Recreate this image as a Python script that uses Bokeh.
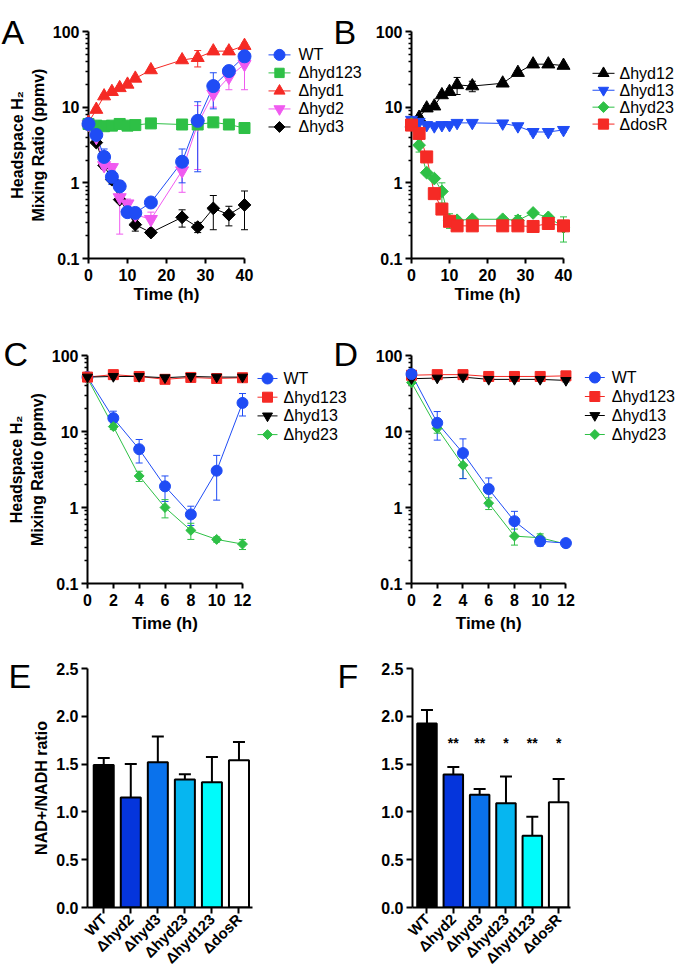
import math
from bokeh.plotting import figure
from bokeh.models import (ColumnDataSource, Whisker, TeeHead,
                          FixedTicker, CustomJSTickFormatter, NumeralTickFormatter, Range1d)
from bokeh.core.properties import value
from bokeh.layouts import row, column
from bokeh.embed import file_html
from bokeh.resources import INLINE

# ---------------- data ----------------
# Panel A (time in h, H2 ppmv, SD)
tA = [0, 2, 4, 6, 8, 10, 12, 16, 24, 28, 32, 36, 40]
A_WT = [6.0, 4.3, 2.2, 1.2, 0.9, 0.41, 0.40, 0.55, 1.9, 6.6, 19, 30, 47]
A_WT_err = [0.3, 0.3, 0.6, 0.25, 0.12, 0.05, 0.05, 0.05, 0.9, 5.2, 9.5, 4, 5]
A_hyd123 = [6.0, 5.7, 5.6, 5.7, 6.0, 5.7, 5.8, 6.1, 5.9, 5.9, 6.3, 5.9, 5.3]
A_hyd123_err = [0.3, 0.2, 0.2, 0.2, 0.3, 0.2, 0.2, 0.3, 0.3, 0.3, 0.3, 0.3, 0.3]
A_hyd1 = [6.3, 9.3, 14, 16, 18, 20, 24, 31, 42, 45, 55, 55, 65]
A_hyd1_err = [0.3, 0.5, 0.8, 0.8, 1.0, 1.0, 1.2, 1.5, 3, 11, 4, 5, 5]
A_hyd2 = [6.0, 4.0, 1.7, 1.6, 0.64, 0.53, 0.38, 0.33, 1.45, 6.0, 15, 25, 37]
A_hyd2_err = [0.3, 0.3, 0.2, 0.2, 0.43, 0.08, 0.05, 0.08, 0.7, 4.5, 5, 8, 20]
A_hyd3 = [6.0, 3.4, 1.7, 1.1, 0.6, 0.42, 0.28, 0.22, 0.35, 0.26, 0.46, 0.38, 0.51]
A_hyd3_err = [0.2, 0.2, 0.15, 0.1, 0.05, 0.04, 0.05, 0.02, 0.09, 0.04, 0.22, 0.11, 0.27]

# Panel B
tB = [0, 2, 4, 6, 8, 10, 12, 16, 24, 28, 32, 36, 40]
B_hyd12 = [6.1, 7.3, 9.7, 10.3, 14.5, 16, 19.7, 19, 20.7, 28.6, 37, 37, 35.5]
B_hyd12_err = [0.3, 0.4, 0.8, 0.8, 1.0, 1.5, 5, 3, 1, 1.5, 2, 1.5, 1.5]
B_hyd13 = [6.8, 6.4, 5.8, 5.6, 5.8, 5.8, 6.2, 6.2, 6.1, 5.6, 4.7, 4.7, 5.0]
B_hyd13_err = [0.3, 0.3, 0.3, 0.3, 0.3, 0.3, 0.3, 0.3, 0.3, 0.3, 0.3, 0.3, 0.3]
B_hyd23 = [6.0, 3.15, 1.36, 1.14, 0.77, 0.32, 0.32, 0.33, 0.33, 0.32, 0.40, 0.35, 0.26]
B_hyd23_err = [0.3, 0.6, 0.1, 0.1, 0.23, 0.07, 0.03, 0.03, 0.03, 0.05, 0.03, 0.03, 0.095]
B_dosR = [5.8, 4.5, 2.2, 0.72, 0.45, 0.31, 0.27, 0.27, 0.27, 0.27, 0.265, 0.29, 0.27]
B_dosR_err = [0.3, 0.3, 0.2, 0.05, 0.04, 0.02, 0.02, 0.02, 0.02, 0.02, 0.02, 0.02, 0.02]

# Panel C
tC = [0, 2, 4, 6, 8, 10, 12]
C_WT = [52, 15, 5.85, 1.9, 0.81, 3.05, 23.8]
C_WT_err = [2, 3.5, 2, 0.7, 0.23, 1.8, 7.8]
C_hyd123 = [52, 56, 53, 48.6, 51.4, 49.8, 51]
C_hyd123_err = [2, 3, 2, 2, 2, 2, 2]
C_hyd13 = [52, 53, 53, 51, 53, 52, 52]
C_hyd13_err = [2, 2, 2, 2, 2, 2, 2]
C_hyd23 = [50, 11.6, 2.6, 1.0, 0.5, 0.38, 0.33]
C_hyd23_err = [2, 1, 0.4, 0.27, 0.12, 0.03, 0.05]

# Panel D
tD = [0, 2, 4, 6, 8, 10, 12]
D_WT = [57, 13, 5.2, 1.75, 0.66, 0.36, 0.34]
D_WT_err = [3, 5.3, 2.8, 0.7, 0.23, 0.05, 0.03]
D_hyd123 = [55, 56, 56, 53, 53, 53, 54]
D_hyd123_err = [2, 2, 2, 2, 2, 2, 2]
D_hyd13 = [49.5, 50.5, 52, 48.5, 48.5, 48.5, 47]
D_hyd13_err = [2, 2, 2, 2, 2, 2, 2]
D_hyd23 = [44, 11, 3.6, 1.14, 0.42, 0.40, 0.33]
D_hyd23_err = [2, 1.5, 1.2, 0.2, 0.1, 0.05, 0.03]

# Panels E and F (NAD+/NADH ratio)
strains = ["WT", "Δhyd2", "Δhyd3", "Δhyd23", "Δhyd123", "ΔdosR"]
E_ratio = [1.49, 1.15, 1.52, 1.34, 1.31, 1.54]
E_err = [0.075, 0.35, 0.27, 0.055, 0.265, 0.19]
F_ratio = [1.925, 1.39, 1.18, 1.09, 0.75, 1.10]
F_err = [0.14, 0.08, 0.06, 0.28, 0.20, 0.244]
F_sig = ["", "**", "**", "*", "**", "*"]
bar_colors = ["#000000", "#0535dc", "#0a72ec", "#06b6f0", "#00fbfb", "#ffffff"]

FONT = "Liberation Sans"
BLUE = "#1f4cf5"
GREEN = "#2ec046"
RED = "#f52a25"
MAGENTA = "#f05af0"
BLACK = "#000000"
LOG_MAJOR = [0.1, 1, 10, 100]
LOG_MINOR = [0.2, 0.3, 0.4, 0.5, 0.6, 0.7, 0.8, 0.9, 2, 3, 4, 5, 6, 7, 8, 9,
             20, 30, 40, 50, 60, 70, 80, 90]
Q = math.pi / 4


def style_axes(p):
    for ax in p.axis:
        ax.axis_line_width = 2
        ax.axis_line_color = "black"
        ax.major_tick_line_width = 2
        ax.major_tick_out = 6
        ax.major_tick_in = 0
        ax.minor_tick_in = 0
        ax.minor_tick_out = 0
        ax.major_label_text_font = FONT
        ax.major_label_text_font_style = "bold"
        ax.major_label_text_font_size = "16px"
        ax.major_label_text_color = "black"
        ax.axis_label_text_font = FONT
        ax.axis_label_text_font_style = "bold"
        ax.axis_label_text_font_size = "16px"
        ax.axis_label_text_color = "black"
        ax.major_label_standoff = 3
        ax.axis_label_standoff = 3
    p.grid.visible = False
    p.outline_line_color = None


def extend(g):
    """Time-course panels: the frame runs to the figure's right edge so that the
    key beside the curves is drawn inside it; the x axis itself stays at its bounds."""
    g = dict(g)
    g["fw"] = g["x0"] + g["w"] - g["fl"]
    g["xr"] = (g["xa"][0], g["xa"][1] * g["fw"] / g["aw"])
    return g


def make_fig(g, log):
    """g: figure geometry in page pixels: x0, y0 (figure origin), w, h,
    fl, ft (frame left/top), fw, fh (frame size), xr, yr (ranges)."""
    kw = dict(y_axis_type="log") if log else {}
    p = figure(width=g["w"], height=g["h"], x_range=Range1d(*g["xr"]), y_range=Range1d(*g["yr"]),
               output_backend="svg", toolbar_location=None,
               min_border_left=g["fl"] - g["x0"],
               min_border_right=g["x0"] + g["w"] - g["fl"] - g["fw"],
               min_border_top=g["ft"] - g["y0"],
               min_border_bottom=g["y0"] + g["h"] - g["ft"] - g["fh"], **kw)
    return p


def page_to_data(g, px, py, log):
    x0, x1 = g["xr"]
    y0, y1 = g["yr"]
    xd = x0 + (px - g["fl"]) * (x1 - x0) / g["fw"]
    frac = (g["ft"] + g["fh"] - py) / g["fh"]
    if log:
        yd = 10 ** (math.log10(y0) + frac * (math.log10(y1) - math.log10(y0)))
    else:
        yd = y0 + frac * (y1 - y0)
    return xd, yd


def letters(p, g, txts, pxs, pys, log):
    xs, ys = [], []
    for px, py in zip(pxs, pys):
        xd, yd = page_to_data(g, px, py, log)
        xs.append(xd)
        ys.append(yd)
    p.text(x=xs, y=ys, text=txts, level="overlay", text_font=value(FONT),
           text_font_size="34px", text_baseline="alphabetic", text_align="left",
           text_color="black")


def key(p, g, series, leg):
    """Legend key: line + marker + label per series, beside the curves."""
    gx, row1, pitch, gw, standoff, msize = leg
    for i, name in enumerate(series):
        vals, errs, color, marker, size, angle = series[name]
        py = row1 + i * pitch
        xa, ya = page_to_data(g, gx, py, True)
        xb, _ = page_to_data(g, gx + gw, py, True)
        xm, _ = page_to_data(g, gx + gw / 2, py, True)
        xt, _ = page_to_data(g, gx + gw + standoff, py, True)
        p.segment(x0=[xa], y0=[ya], x1=[xb], y1=[ya], line_color=color, line_width=1,
                  level="overlay")
        p.scatter(x=[xm], y=[ya], marker=marker, size=msize * size, angle=angle,
                  fill_color=color, line_color=color, level="overlay")
        p.text(x=[xt], y=[ya], text=[name], level="overlay", text_font=value(FONT),
               text_font_size="16px", text_baseline="middle", text_align="left",
               text_color="black")


def timecourse(g, xticks, t, series, draw_order, ylabel, leg, xlabel_y):
    p = make_fig(g, True)
    p.yaxis.ticker = FixedTicker(ticks=LOG_MAJOR, minor_ticks=LOG_MINOR)
    p.yaxis.formatter = CustomJSTickFormatter(code="return tick < 1 ? tick.toFixed(1) : tick.toFixed(0)")
    p.xaxis.ticker = FixedTicker(ticks=xticks)
    p.xaxis.bounds = g["xa"]
    style_axes(p)
    p.yaxis.minor_tick_out = 3
    p.yaxis.minor_tick_line_width = 1.5
    p.xaxis.major_tick_out = 5
    p.xaxis.major_label_standoff = 5
    if ylabel:
        p.yaxis.axis_label = ylabel
    # x-axis title centred under the axis line (the frame is wider than the axis)
    xm, ym = page_to_data(g, g["fl"] + g["aw"] / 2, xlabel_y, True)
    p.text(x=[xm], y=[ym], text=["Time (h)"], level="overlay", text_font=value(FONT),
           text_font_size="17px", text_font_style="bold", text_baseline="middle",
           text_align="center", text_color="black")

    for name in draw_order:
        vals, errs, color, marker, size, angle = series[name]
        src = ColumnDataSource(dict(t=t, v=vals,
                                    lo=[v - e for v, e in zip(vals, errs)],
                                    hi=[v + e for v, e in zip(vals, errs)]))
        w = Whisker(source=src, base="t", lower="lo", upper="hi", line_color=color,
                    line_width=1,
                    upper_head=TeeHead(size=7, line_color=color, line_width=1),
                    lower_head=TeeHead(size=7, line_color=color, line_width=1))
        p.add_layout(w)
        p.line("t", "v", source=src, line_color=color, line_width=1)
        p.scatter("t", "v", source=src, marker=marker, size=size, angle=angle,
                  fill_color=color, line_color=color, level="overlay")
    key(p, g, series, leg)
    return p


# ---- geometry (page pixels) ----
gA = extend(dict(x0=0, y0=0, w=372, h=318, fl=88, ft=31, aw=156, fh=233, xa=(0, 40), yr=(0.1, 100)))
gB = extend(dict(x0=372, y0=0, w=312, h=318, fl=411, ft=30, aw=152, fh=228, xa=(0, 40), yr=(0.1, 100)))
gC = extend(dict(x0=0, y0=318, w=372, h=318, fl=87, ft=355, aw=155, fh=228, xa=(0, 12), yr=(0.1, 100)))
gD = extend(dict(x0=372, y0=318, w=312, h=318, fl=410, ft=355, aw=155, fh=228, xa=(0, 12), yr=(0.1, 100)))
gE = dict(x0=0, y0=636, w=372, h=340, fl=87, ft=662, fw=165, fh=245, xr=(-0.6, 5.5), yr=(0, 2.5))
gF = dict(x0=372, y0=636, w=312, h=340, fl=412, ft=668, fw=158, fh=240, xr=(-0.55, 5.45), yr=(0, 2.5))

# ---- A ----
seriesA = {
    "WT": (A_WT, A_WT_err, BLUE, "circle", 13, 0),
    "Δhyd123": (A_hyd123, A_hyd123_err, GREEN, "square", 11, 0),
    "Δhyd1": (A_hyd1, A_hyd1_err, RED, "triangle", 13, 0),
    "Δhyd2": (A_hyd2, A_hyd2_err, MAGENTA, "inverted_triangle", 13, 0),
    "Δhyd3": (A_hyd3, A_hyd3_err, BLACK, "square", 9, Q),
}
pA = timecourse(gA, [0, 10, 20, 30, 40], tA, seriesA,
                ["Δhyd3", "Δhyd2", "Δhyd1", "Δhyd123", "WT"],
                "Headspace H₂\nMixing Ratio (ppmv)", (268, 55, 18.5, 22, 8, 0.85), 301)
letters(pA, gA, ["A", "B"], [1, 333], [32, 32], True)

# ---- B ----
seriesB = {
    "Δhyd12": (B_hyd12, B_hyd12_err, BLACK, "triangle", 13, 0),
    "Δhyd13": (B_hyd13, B_hyd13_err, BLUE, "inverted_triangle", 12, 0),
    "Δhyd23": (B_hyd23, B_hyd23_err, GREEN, "square", 9, Q),
    "ΔdosR": (B_dosR, B_dosR_err, RED, "square", 12, 0),
}
pB = timecourse(gB, [0, 10, 20, 30, 40], tB, seriesB,
                ["Δhyd12", "Δhyd13", "Δhyd23", "ΔdosR"], None, (592, 72, 17, 22, 5, 0.85), 294)

# ---- C ----
seriesC = {
    "WT": (C_WT, C_WT_err, BLUE, "circle", 11, 0),
    "Δhyd123": (C_hyd123, C_hyd123_err, RED, "square", 10, 0),
    "Δhyd13": (C_hyd13, C_hyd13_err, BLACK, "inverted_triangle", 10, 0),
    "Δhyd23": (C_hyd23, C_hyd23_err, GREEN, "square", 7, Q),
}
pC = timecourse(gC, [0, 2, 4, 6, 8, 10, 12], tC, seriesC,
                ["WT", "Δhyd23", "Δhyd123", "Δhyd13"],
                "Headspace H₂\nMixing Ratio (ppmv)", (257, 378, 18.7, 20, 6, 1.0), 623)
letters(pC, gC, ["C", "D"], [3, 333], [353, 353], True)

# ---- D ----
seriesD = {
    "WT": (D_WT, D_WT_err, BLUE, "circle", 11, 0),
    "Δhyd123": (D_hyd123, D_hyd123_err, RED, "square", 10, 0),
    "Δhyd13": (D_hyd13, D_hyd13_err, BLACK, "inverted_triangle", 10, 0),
    "Δhyd23": (D_hyd23, D_hyd23_err, GREEN, "square", 7, Q),
}
pD = timecourse(gD, [0, 2, 4, 6, 8, 10, 12], tD, seriesD,
                ["Δhyd23", "Δhyd123", "Δhyd13", "WT"], None, (584, 377, 19, 20, 7, 1.0), 623)


# ---- bar panels ----
def barpanel(g, vals, errs, ylabel, sig=None):
    p = make_fig(g, False)
    xs = list(range(len(strains)))
    src = ColumnDataSource(dict(x=xs, v=vals, hi=[v + e for v, e in zip(vals, errs)],
                                c=bar_colors))
    w = Whisker(source=src, base="x", lower="v", upper="hi", line_color="black",
                line_width=2, upper_head=TeeHead(size=12, line_color="black", line_width=2),
                lower_head=None)
    p.add_layout(w)
    p.vbar(x="x", top="v", bottom=0, width=0.74, source=src, fill_color="c",
           line_color="black", line_width=2)
    p.xaxis.ticker = FixedTicker(ticks=xs)
    p.xaxis.major_label_overrides = {i: s for i, s in zip(xs, strains)}
    p.xaxis.major_label_orientation = math.pi / 4
    p.yaxis.ticker = FixedTicker(ticks=[0, 0.5, 1.0, 1.5, 2.0, 2.5])
    p.yaxis.formatter = NumeralTickFormatter(format="0.0")
    style_axes(p)
    p.xaxis.major_label_text_font_size = "15px"
    if ylabel:
        p.yaxis.axis_label = ylabel
    if sig:
        ssrc = ColumnDataSource(dict(x=xs, y=[1.72] * len(xs), s=sig))
        p.text(x="x", y="y", text="s", source=ssrc, text_align="center",
               text_baseline="middle", text_font_size="14px", text_font_style="bold",
               text_color="black")
    return p


pE = barpanel(gE, E_ratio, E_err, "NAD+/NADH ratio")
letters(pE, gE, ["E", "F"], [8, 337], [670, 670], False)
pF = barpanel(gF, F_ratio, F_err, None, F_sig)

layout = column(row(pA, pB), row(pC, pD), row(pE, pF))
open("out.html", "w").write(file_html(layout, INLINE))
